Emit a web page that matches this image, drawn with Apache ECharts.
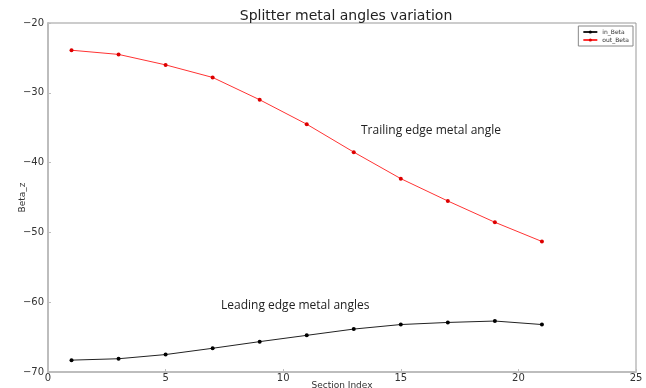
<!DOCTYPE html>
<html>
<head>
<meta charset="utf-8">
<script src="https://cdn.jsdelivr.net/npm/echarts@6/dist/echarts.min.js"></script>
<style>
  html, body { margin: 0; padding: 0; background: #fff; }
  #chart { width: 646px; height: 388px; }
</style>
</head>
<body>
<div id="chart"></div>
<script>
// Section indices along the splitter span
const sectionIndex = [1, 3, 5, 7, 9, 11, 13, 15, 17, 19, 21];
// Leading edge metal angle (deg)
const inBeta = [-68.3, -68.1, -67.5, -66.6, -65.65, -64.75, -63.85, -63.2, -62.9, -62.7, -63.2];
// Trailing edge metal angle (deg)
const outBeta = [-23.9, -24.5, -26.0, -27.8, -31.0, -34.5, -38.5, -42.3, -45.5, -48.55, -51.3];

const xTicks = [0, 5, 10, 15, 20, 25];
const yTicks = [-70, -60, -50, -40, -30, -20];

const pairs = (xs, ys) => xs.map((x, i) => [x, ys[i]]);

const chart = echarts.init(document.getElementById('chart'));
const axisCommon = {
  axisLine: { show: true, lineStyle: { color: '#bdbdbd', width: 2 } },
  axisTick: { show: true, inside: true, length: 3, lineStyle: { color: '#bdbdbd' } },
  splitLine: { show: false },
  axisLabel: { color: '#333', fontSize: 10, fontFamily: 'DejaVu Sans' }
};

chart.setOption({
  animation: false,
  title: {
    text: 'Splitter metal angles variation',
    left: 341, top: 4, textAlign: 'center',
    textStyle: { fontSize: 14, fontWeight: 'normal', color: '#222', fontFamily: 'DejaVu Sans' }
  },
  legend: {
    right: 13, top: 26, orient: 'vertical',
    itemWidth: 14, itemHeight: 4, itemGap: 2,
    padding: [3, 4, 3, 4],
    borderColor: '#888', borderWidth: 1,
    textStyle: { fontSize: 6, color: '#333', fontFamily: 'DejaVu Sans' },
    data: ['in_Beta', 'out_Beta']
  },
  grid: { left: 48, right: 10, top: 23, bottom: 16, containLabel: false, outerBoundsMode: 'none' },
  xAxis: Object.assign({}, axisCommon, {
    type: 'value', min: 0, max: 25, interval: 5,
    name: 'Section Index', nameLocation: 'middle', nameGap: 9, nameMoveOverlap: false,
    nameTextStyle: { fontSize: 9, color: '#333', fontFamily: 'DejaVu Sans' },
    axisLabel: Object.assign({}, axisCommon.axisLabel, { margin: 1 })
  }),
  yAxis: Object.assign({}, axisCommon, {
    type: 'value', min: -70, max: -20, interval: 10,
    name: 'Beta_z', nameLocation: 'middle', nameGap: 21, nameMoveOverlap: false,
    nameTextStyle: { fontSize: 9, color: '#333', fontFamily: 'DejaVu Sans' },
    axisLabel: Object.assign({}, axisCommon.axisLabel, {
      margin: 4,
      formatter: v => String(v).replace('-', '\u2212')
    })
  }),
  graphic: [
    // upper and right frame edges
    { type: 'line', shape: { x1: 48, y1: 23, x2: 636, y2: 23 }, style: { stroke: '#999', lineWidth: 1 } },
    { type: 'line', shape: { x1: 636, y1: 23, x2: 636, y2: 372 }, style: { stroke: '#999', lineWidth: 1 } },
    { type: 'text', left: 361, top: 125,
      style: { text: 'Trailing edge metal angle', fontSize: 12, fill: '#222', fontFamily: 'Open Sans' } },
    { type: 'text', left: 221, top: 300,
      style: { text: 'Leading edge metal angles', fontSize: 12, fill: '#222', fontFamily: 'Open Sans' } }
  ],
  series: [
    {
      name: 'in_Beta', type: 'line', data: pairs(sectionIndex, inBeta),
      symbol: 'circle', symbolSize: 4, smooth: false,
      itemStyle: { color: '#000' }, lineStyle: { color: '#222', width: 1 }
    },
    {
      name: 'out_Beta', type: 'line', data: pairs(sectionIndex, outBeta),
      symbol: 'circle', symbolSize: 4, smooth: false,
      itemStyle: { color: '#d00' }, lineStyle: { color: '#f33', width: 1 }
    }
  ]
});
</script>
</body>
</html>
